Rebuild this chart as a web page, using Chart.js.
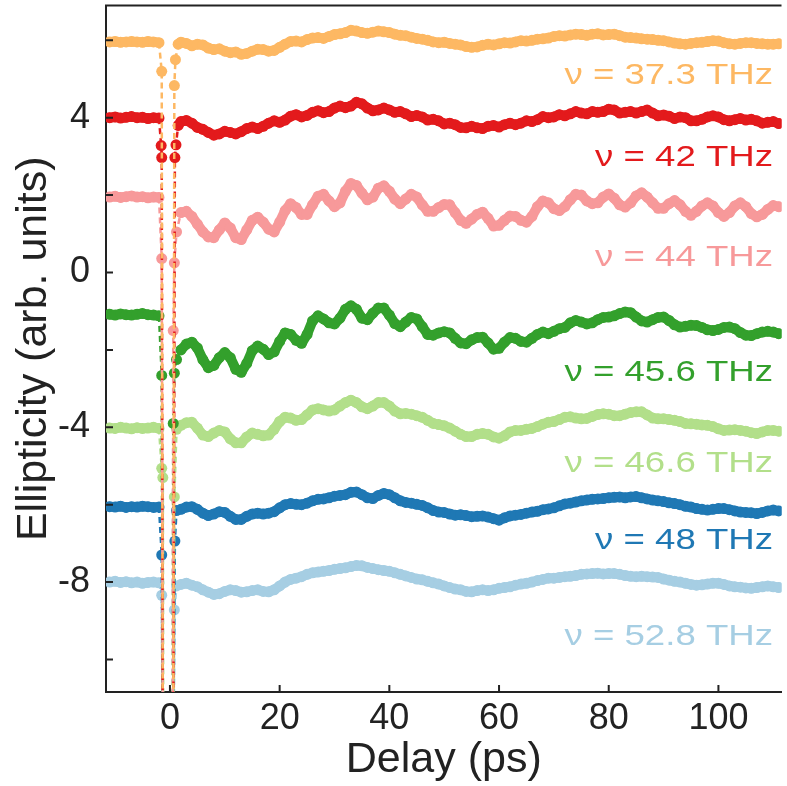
<!DOCTYPE html>
<html>
<head>
<meta charset="utf-8">
<script src="https://cdn.jsdelivr.net/npm/chart.js@4/dist/chart.umd.min.js"></script>
<style>
  html, body { margin: 0; padding: 0; background: #fff; }
  #wrap { width: 787px; height: 786px; position: relative; }
</style>
</head>
<body>
<div id="wrap"><canvas id="chart"></canvas></div>
<script>
// delay grid (ps)
var delayPre = [-11, -10, -9, -8, -7, -6, -5, -4, -3, -2];
var delayPost = [
  2, 3, 4, 5, 6, 7, 8, 9, 10, 11,
  12, 13, 14, 15, 16, 17, 18, 19, 20, 21,
  22, 23, 24, 25, 26, 27, 28, 29, 30, 31,
  32, 33, 34, 35, 36, 37, 38, 39, 40, 41,
  42, 43, 44, 45, 46, 47, 48, 49, 50, 51,
  52, 53, 54, 55, 56, 57, 58, 59, 60, 61,
  62, 63, 64, 65, 66, 67, 68, 69, 70, 71,
  72, 73, 74, 75, 76, 77, 78, 79, 80, 81,
  82, 83, 84, 85, 86, 87, 88, 89, 90, 91,
  92, 93, 94, 95, 96, 97, 98, 99, 100, 101,
  102, 103, 104, 105, 106, 107, 108, 109, 110, 111
];

var seriesNames = ['ν = 37.3 THz', 'ν = 42 THz', 'ν = 44 THz', 'ν = 45.6 THz',
                   'ν = 46.6 THz', 'ν = 48 THz', 'ν = 52.8 THz'];
var seriesColors = ['#fdb863', '#e31a1c', '#f7999a', '#33a02c', '#b2df8a', '#1f78b4', '#a6cee3'];

// 37.3 THz
var pre373 = [5.96, 5.97, 5.95, 5.96, 5.97, 5.96, 5.95, 5.97, 5.96, 5.94];
var jumpX373 = [-1.5, -1.3, 0.6, 0.8, 1.0, 1.5];
var jumpY373 = [5.2, -13, -13, 4.83, 5.5, 5.9];
var post373 = [
  5.95, 5.92, 5.86, 5.9, 5.88, 5.8, 5.76, 5.78, 5.72, 5.68,
  5.7, 5.64, 5.66, 5.72, 5.77, 5.76, 5.72, 5.74, 5.82, 5.9,
  5.97, 5.98, 5.96, 6.02, 6.06, 6.07, 6.05, 6.1, 6.15, 6.17,
  6.2, 6.26, 6.24, 6.2, 6.18, 6.21, 6.24, 6.22, 6.2, 6.16,
  6.13, 6.12, 6.08, 6.05, 6.03, 6.0, 5.96, 5.94, 5.95, 5.92,
  5.9, 5.88, 5.84, 5.82, 5.83, 5.87, 5.9, 5.88, 5.91, 5.94,
  5.93, 5.96, 5.99, 5.98, 6.0, 6.03, 6.04, 6.06, 6.1, 6.12,
  6.11, 6.14, 6.16, 6.15, 6.13, 6.16, 6.17, 6.14, 6.15, 6.16,
  6.12, 6.08, 6.07, 6.06, 6.04, 6.03, 6.02, 6.0, 5.99, 5.96,
  5.93, 5.91, 5.9, 5.92, 5.94, 5.95, 5.97, 5.99, 5.98, 5.94,
  5.91, 5.9, 5.92, 5.94, 5.94, 5.92, 5.91, 5.9, 5.9, 5.91
];

// 42 THz
var pre42 = [4.0, 4.02, 3.99, 4.01, 4.03, 4.0, 4.01, 3.98, 4.0, 3.99];
var jumpX42 = [-1.6, -1.5, -1.3, 0.6, 0.9, 1.1, 1.5];
var jumpY42 = [3.28, 2.97, -13, -13, 2.97, 3.3, 3.8];
var post42 = [
  3.9, 3.93, 3.86, 3.75, 3.7, 3.62, 3.55, 3.58, 3.65, 3.62,
  3.58, 3.64, 3.72, 3.76, 3.72, 3.78, 3.86, 3.92, 3.88, 3.94,
  4.04, 4.08, 4.02, 4.06, 4.14, 4.18, 4.13, 4.16, 4.25, 4.3,
  4.26, 4.3, 4.4, 4.36, 4.25, 4.18, 4.2, 4.25, 4.2, 4.14,
  4.16, 4.1, 4.03, 4.06, 4.02, 3.94, 3.96, 3.92, 3.84, 3.86,
  3.82, 3.75, 3.74, 3.78, 3.74, 3.72, 3.78, 3.8, 3.76, 3.82,
  3.86, 3.82, 3.86, 3.92, 3.9, 3.95, 4.03, 4.0, 4.02, 4.08,
  4.05, 4.1, 4.16, 4.12, 4.1, 4.16, 4.14, 4.16, 4.22, 4.2,
  4.12, 4.14, 4.16, 4.12, 4.16, 4.2, 4.12, 4.05, 4.07, 4.04,
  3.98, 4.02, 4.0, 3.92, 3.92, 3.96, 4.02, 4.05, 4.02, 3.95,
  3.92, 3.95, 3.98, 3.94, 3.96, 3.92, 3.86, 3.88, 3.9, 3.85
];

// 44 THz
var pre44 = [1.95, 1.97, 1.94, 1.96, 1.98, 1.95, 1.96, 1.93, 1.95, 1.94];
var jumpX44 = [-1.5, -1.3, 0.5, 0.6, 0.8, 1.2];
var jumpY44 = [0.36, -13, -13, -1.5, 0.25, 1.05];
var post44 = [
  1.55, 1.58, 1.45, 1.25, 1.05, 0.92, 0.9, 1.1, 1.28, 1.15,
  0.9, 0.85, 1.1, 1.35, 1.43, 1.3, 1.12, 1.05, 1.3, 1.6,
  1.78, 1.68, 1.5, 1.5, 1.75, 1.97, 2.02, 1.85, 1.7, 1.8,
  2.1, 2.3, 2.25, 2.05, 1.88, 1.95, 2.18, 2.24, 2.1, 1.9,
  1.78, 1.9, 2.02, 1.95, 1.75, 1.58, 1.58, 1.68, 1.76, 1.75,
  1.55, 1.35, 1.27, 1.38, 1.5, 1.56, 1.4, 1.2, 1.22, 1.35,
  1.46, 1.45, 1.35, 1.3, 1.45, 1.7, 1.85, 1.8, 1.65, 1.6,
  1.7, 1.88, 2.02, 2.0, 1.85, 1.78, 1.8, 1.95, 2.03, 1.92,
  1.75, 1.69, 1.8, 1.98, 2.06, 1.95, 1.8, 1.66, 1.66, 1.78,
  1.86, 1.75, 1.58, 1.48, 1.58, 1.72, 1.8, 1.72, 1.55, 1.45,
  1.55, 1.72, 1.8, 1.7, 1.52, 1.44, 1.5, 1.63, 1.73, 1.7
];

// 45.6 THz
var pre456 = [-1.08, -1.1, -1.07, -1.09, -1.1, -1.08, -1.06, -1.09, -1.1, -1.12];
var jumpX456 = [-1.5, -1.3, 0.5, 0.6, 0.8, 1.2];
var jumpY456 = [-2.66, -13, -13, -3.9, -2.6, -2.25];
var post456 = [
  -2.0, -1.85, -1.8, -1.95, -2.25, -2.46, -2.4, -2.2, -2.07, -2.2,
  -2.5, -2.58, -2.35, -2.02, -1.9, -1.98, -2.12, -2.05, -1.78, -1.56,
  -1.6, -1.75, -1.83, -1.6, -1.25, -1.12, -1.2, -1.3, -1.33, -1.18,
  -0.95, -0.86, -0.95, -1.18, -1.22, -1.05, -0.92, -0.92, -1.1, -1.32,
  -1.4, -1.28, -1.16, -1.2, -1.4, -1.6, -1.62, -1.56, -1.53, -1.56,
  -1.7, -1.82, -1.84, -1.74, -1.68, -1.67, -1.82, -1.98, -1.96, -1.8,
  -1.68, -1.7, -1.78, -1.8, -1.7, -1.6, -1.54, -1.58, -1.52, -1.45,
  -1.42, -1.3, -1.24, -1.28, -1.33, -1.3, -1.22, -1.16, -1.15, -1.12,
  -1.06, -1.02, -1.04, -1.15, -1.25, -1.28, -1.22, -1.16, -1.15, -1.24,
  -1.35, -1.41, -1.39, -1.36, -1.37, -1.42, -1.48, -1.5, -1.47, -1.42,
  -1.41, -1.45, -1.55, -1.62, -1.63, -1.58, -1.54, -1.52, -1.54, -1.58
];

// 46.6 THz
var pre466 = [-4.02, -4.03, -4.0, -4.02, -4.04, -4.01, -4.03, -4.02, -4.0, -4.03];
var jumpX466 = [-1.5, -1.3, -1.2, 0.6, 0.8, 1.2];
var jumpY466 = [-5.06, -5.3, -13, -13, -5.8, -4.05];
var post466 = [
  -3.95, -3.88, -3.87, -4.02, -4.2, -4.24, -4.15, -4.08, -4.12, -4.3,
  -4.4, -4.4, -4.25, -4.15, -4.18, -4.22, -4.2, -4.05, -3.85, -3.74,
  -3.76, -3.82, -3.8, -3.68, -3.55, -3.52, -3.55, -3.58, -3.55, -3.45,
  -3.36, -3.3, -3.36, -3.47, -3.52, -3.45, -3.36, -3.36, -3.45, -3.58,
  -3.65, -3.64, -3.66, -3.7, -3.74, -3.82, -3.9, -3.93, -3.96, -4.02,
  -4.1, -4.18, -4.24, -4.24, -4.18, -4.16, -4.18, -4.25, -4.28, -4.22,
  -4.12, -4.08, -4.08, -4.05, -4.03, -3.98, -3.92, -3.87, -3.85, -3.8,
  -3.74, -3.73, -3.76, -3.78, -3.77, -3.72, -3.67, -3.65, -3.66, -3.7,
  -3.7, -3.66, -3.62, -3.6, -3.6, -3.68, -3.76, -3.78, -3.78, -3.8,
  -3.82, -3.85, -3.9, -3.91, -3.92, -3.94, -3.95, -3.98, -4.04, -4.08,
  -4.07, -4.06, -4.08, -4.1, -4.14, -4.16, -4.12, -4.08, -4.08, -4.1
];

// 48 THz
var pre48 = [-6.05, -6.06, -6.04, -6.07, -6.05, -6.06, -6.04, -6.05, -6.07, -6.06];
var jumpX48 = [-1.5, -1.3, 0.6, 0.9, 1.2];
var jumpY48 = [-7.3, -13, -13, -6.94, -6.15];
var post48 = [
  -6.12, -6.06, -6.05, -6.12, -6.22, -6.28, -6.24, -6.18, -6.2, -6.3,
  -6.38, -6.38, -6.3, -6.24, -6.22, -6.24, -6.22, -6.18, -6.08, -6.0,
  -5.97, -5.99, -6.0, -5.96, -5.9, -5.86, -5.85, -5.82, -5.78, -5.76,
  -5.74, -5.68, -5.67, -5.74, -5.82, -5.84, -5.76, -5.71, -5.74, -5.82,
  -5.9, -5.94, -5.96, -5.99, -6.02, -6.08, -6.15, -6.19, -6.2, -6.24,
  -6.27, -6.26, -6.28, -6.31, -6.3, -6.29, -6.32, -6.36, -6.4, -6.34,
  -6.29, -6.27, -6.25, -6.22, -6.19, -6.17, -6.13, -6.11, -6.08, -6.03,
  -5.98, -5.96, -5.93, -5.9, -5.88, -5.86, -5.85, -5.84, -5.82, -5.81,
  -5.8, -5.82, -5.8, -5.79, -5.82, -5.85, -5.88, -5.9, -5.92, -5.95,
  -5.97, -6.0, -6.04, -6.06, -6.1, -6.12, -6.14, -6.12, -6.1, -6.1,
  -6.13, -6.16, -6.19, -6.2, -6.21, -6.23, -6.2, -6.16, -6.14, -6.16
];

// 52.8 THz
var pre528 = [-8.0, -7.98, -8.01, -7.99, -8.02, -8.0, -8.03, -8.01, -8.0, -8.02];
var jumpX528 = [-1.5, -1.3, 0.6, 0.8, 1.2];
var jumpY528 = [-8.34, -13, -13, -8.72, -8.1];
var post528 = [
  -8.06, -8.03, -8.08, -8.12, -8.2, -8.26, -8.32, -8.3, -8.24, -8.2,
  -8.22, -8.26, -8.25, -8.22, -8.2, -8.24, -8.25, -8.2, -8.1, -8.0,
  -7.93, -7.9, -7.86, -7.8, -7.76, -7.74, -7.72, -7.7, -7.67, -7.65,
  -7.63, -7.6, -7.57, -7.58, -7.62, -7.65, -7.68, -7.7, -7.72, -7.76,
  -7.8, -7.84, -7.88, -7.92, -7.94, -7.98, -8.02, -8.05, -8.1, -8.14,
  -8.18, -8.2, -8.24, -8.25, -8.22, -8.2, -8.22, -8.2, -8.16, -8.14,
  -8.12, -8.08, -8.05, -8.03, -8.0, -7.96, -7.93, -7.9, -7.9, -7.88,
  -7.86, -7.85, -7.83, -7.8, -7.79, -7.78, -7.77, -7.79, -7.78, -7.78,
  -7.8, -7.83, -7.85, -7.86, -7.85, -7.86, -7.87, -7.88, -7.92, -7.95,
  -7.98, -8.0, -8.03, -8.06, -8.08, -8.07, -8.05, -8.03, -8.03, -8.06,
  -8.1, -8.12, -8.13, -8.15, -8.16, -8.14, -8.12, -8.1, -8.12, -8.14
];

var xTicks = [0, 20, 40, 60, 80, 100];
var yTicks = [-10, -8, -6, -4, -2, 0, 2, 4, 6];
var yLabelled = [-8, -4, 0, 4];

function build(pre, jx, jy, post) {
  var pts = [];
  for (var i = 0; i < pre.length; i++) pts.push({x: delayPre[i], y: pre[i]});
  for (var j = 0; j < jx.length; j++) pts.push({x: jx[j], y: jy[j]});
  for (var k = 0; k < post.length; k++) pts.push({x: delayPost[k], y: post[k]});
  return pts;
}

var allSeries = [
  build(pre373, jumpX373, jumpY373, post373),
  build(pre42, jumpX42, jumpY42, post42),
  build(pre44, jumpX44, jumpY44, post44),
  build(pre456, jumpX456, jumpY456, post456),
  build(pre466, jumpX466, jumpY466, post466),
  build(pre48, jumpX48, jumpY48, post48),
  build(pre528, jumpX528, jumpY528, post528)
];

// segments around time zero are drawn thin and dashed, the rest as a thick band
function inJump(c) {
  return c.p1.parsed.x > -1.9 && c.p0.parsed.x < 1.4;
}

var datasets = allSeries.map(function(pts, i) {
  return {
    label: seriesNames[i],
    data: pts,
    borderColor: seriesColors[i],
    backgroundColor: seriesColors[i],
    borderWidth: 10,
    borderDash: [],
    borderCapStyle: 'round',
    borderJoinStyle: 'round',
    pointRadius: 5.5,
    pointBorderWidth: 0,
    pointBackgroundColor: seriesColors[i],
    tension: 0,
    segment: {
      borderWidth: function(c) { return inJump(c) ? 2.5 : 10; },
      borderDash: function(c) { return inJump(c) ? [6, 4] : []; },
      borderCapStyle: function(c) { return inJump(c) ? 'butt' : 'round'; }
    }
  };
});

// where each frequency label sits (y value), drawn at right edge
var labelAt = [5.08, 2.97, 0.39, -2.6, -4.95, -6.92, -9.4];

var framePlugin = {
  id: 'frame',
  afterDraw: function(chart) {
    var ctx = chart.ctx;
    var area = chart.chartArea;
    var xs = chart.scales.x, ys = chart.scales.y;
    ctx.save();
    ctx.strokeStyle = '#222';
    ctx.lineWidth = 2;
    ctx.beginPath();
    ctx.moveTo(area.left - 1, area.top);
    ctx.lineTo(area.right, area.top);
    xTicks.forEach(function(v) {
      var px = xs.getPixelForValue(v);
      ctx.moveTo(px, area.bottom);
      ctx.lineTo(px, area.bottom - 7);
    });
    yTicks.forEach(function(v) {
      var py = ys.getPixelForValue(v);
      ctx.moveTo(area.left, py);
      ctx.lineTo(area.left + 7, py);
    });
    ctx.stroke();

    ctx.font = '30px "Liberation Sans", Arial, sans-serif';
    ctx.textAlign = 'right';
    ctx.textBaseline = 'middle';
    seriesNames.forEach(function(name, i) {
      var py = ys.getPixelForValue(labelAt[i]);
      ctx.save();
      ctx.translate(773, py);
      ctx.scale(1.22, 1);
      ctx.fillStyle = seriesColors[i];
      ctx.fillText(name, 0, 0);
      ctx.restore();
    });
    ctx.restore();
  }
};

new Chart(document.getElementById('chart'), {
  type: 'line',
  data: { datasets: datasets },
  options: {
    responsive: true,
    maintainAspectRatio: false,
    animation: false,
    devicePixelRatio: 1,
    layout: { padding: { top: 4, right: 0, bottom: 0, left: 0 } },
    plugins: { legend: { display: false }, tooltip: { enabled: false } },
    events: [],
    scales: {
      x: {
        type: 'linear',
        position: 'bottom',
        min: -11.66,
        max: 111.5,
        grid: { display: false, drawTicks: false },
        border: { display: true, color: '#222', width: 2 },
        afterBuildTicks: function(scale) {
          scale.ticks = xTicks.map(function(v) { return {value: v}; });
        },
        afterFit: function(scale) {
          scale.height = 94;
          scale.paddingLeft = 0;
          scale.paddingRight = 0;
        },
        ticks: {
          color: '#222',
          padding: 5,
          maxRotation: 0,
          font: { family: '"Liberation Sans", Arial, sans-serif', size: 36 }
        },
        title: {
          display: true,
          text: 'Delay (ps)',
          color: '#222',
          padding: { top: 0, bottom: 0 },
          font: { family: '"Liberation Sans", Arial, sans-serif', size: 43 }
        }
      },
      y: {
        type: 'linear',
        min: -10.84,
        max: 6.9,
        grid: { display: false, drawTicks: false },
        border: { display: true, color: '#222', width: 2 },
        afterBuildTicks: function(scale) {
          scale.ticks = yTicks.map(function(v) { return {value: v}; });
        },
        afterFit: function(scale) {
          scale.width = 106;
          scale.paddingTop = 0;
          scale.paddingBottom = 0;
        },
        ticks: {
          color: '#222',
          padding: 16,
          font: { family: '"Liberation Sans", Arial, sans-serif', size: 36 },
          callback: function(v) {
            return yLabelled.indexOf(v) >= 0 ? String(v) : '';
          }
        },
        title: {
          display: true,
          text: 'Ellipticity (arb. units)',
          color: '#222',
          padding: { top: 8, bottom: 0 },
          font: { family: '"Liberation Sans", Arial, sans-serif', size: 43 }
        }
      }
    }
  },
  plugins: [framePlugin]
});
</script>
</body>
</html>
